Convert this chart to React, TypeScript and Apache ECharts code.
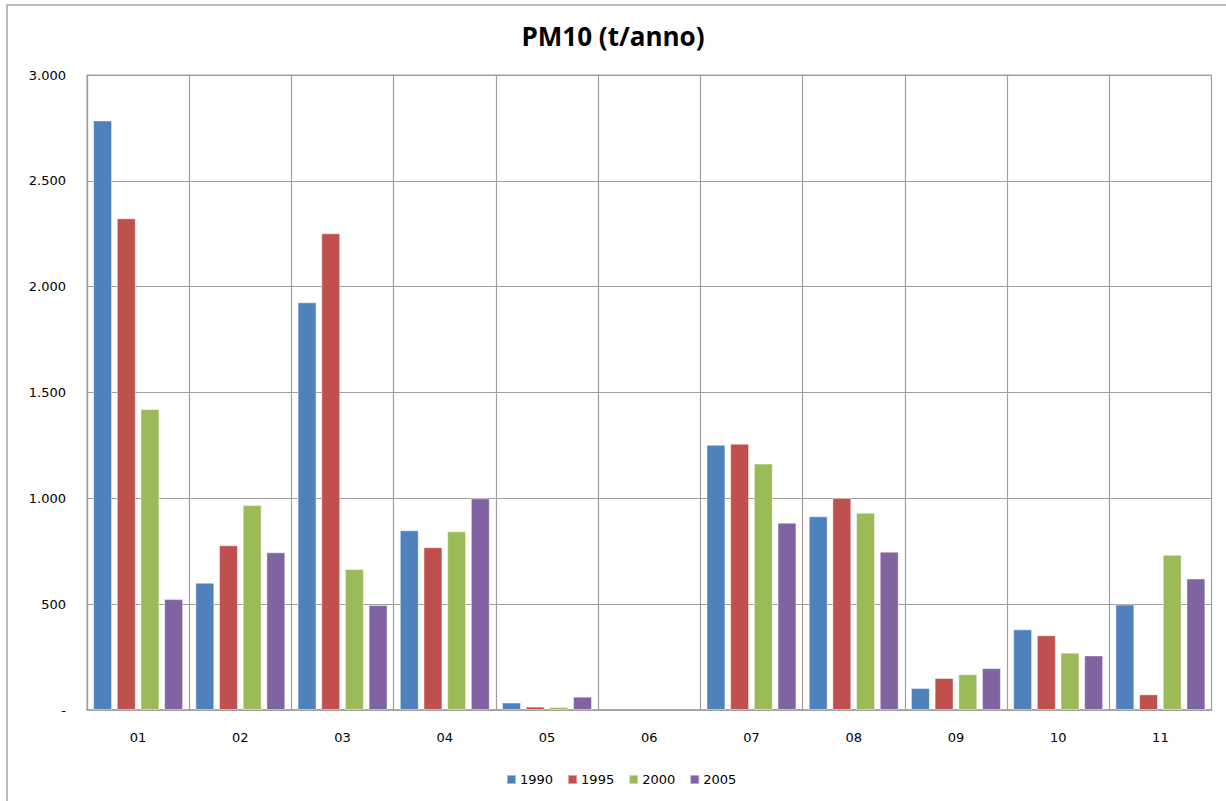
import React, { useEffect, useRef } from "react";
import * as echarts from "echarts";

const categories = ["01", "02", "03", "04", "05", "06", "07", "08", "09", "10", "11"];
const years = ["1990", "1995", "2000", "2005"];
const s1990 = [2785, 601, 1926, 849, 35, null, 1253, 915, 104, 381, 498];
const s1995 = [2323, 778, 2252, 769, 16, null, 1258, 1002, 151, 353, 74];
const s2000 = [1422, 968, 666, 844, 14, null, 1164, 932, 169, 271, 733];
const s2005 = [524, 745, 496, 1000, 63, null, 885, 748, 198, 258, 621];
const yTicks = [0, 500, 1000, 1500, 2000, 2500, 3000];

const colors = ["#4F81BD", "#C0504D", "#9BBB59", "#8064A2"];
const FONT = "'DejaVu Sans', sans-serif";
const TITLE_FONT = "'Open Sans', Lato, sans-serif";

function fmt(v: number): string {
  if (v === 0) return "-";
  return String(v).replace(/\B(?=(\d{3})+(?!\d))/g, ".");
}

export default function App() {
  const ref = useRef<HTMLDivElement>(null);
  useEffect(() => {
    if (!ref.current) return;
    const chart = echarts.init(ref.current, null, { renderer: "svg" });
    const seriesData = [s1990, s1995, s2000, s2005];
    chart.setOption({
      animation: false,
      backgroundColor: "#ffffff",
      textStyle: { fontFamily: FONT },
      title: {
        text: "PM10 (t/anno)",
        left: "center",
        top: 18,
        textStyle: { fontFamily: TITLE_FONT, fontSize: 26, fontWeight: "bold", color: "#000" },
      },
      legend: {
        data: years,
        left: 501,
        top: 768,
        itemWidth: 9,
        itemHeight: 9,
        itemGap: 14,
        icon: "rect",
        textStyle: { fontFamily: FONT, fontSize: 13, color: "#000", padding: [0, 0, 0, -1] },
      },
      graphic: [
        {
          type: "rect",
          shape: { x: 7, y: 5, width: 1240, height: 820 },
          style: { fill: "none", stroke: "#a6a6a6", lineWidth: 1.5 },
          silent: true,
        },
      ],
      grid: {
        left: 87,
        top: 75,
        width: 1124.5,
        height: 635,
        containLabel: false,
        outerBoundsMode: "none",
        show: true,
        borderColor: "#a0a0a0",
        borderWidth: 1,
      },
      xAxis: {
        type: "category",
        data: categories,
        axisLine: { show: true, lineStyle: { color: "#a0a0a0", width: 1.5 } },
        axisTick: { show: false },
        splitLine: { show: true, lineStyle: { color: "#a0a0a0", width: 1.2 } },
        axisLabel: { color: "#000", fontSize: 13, margin: 21, fontFamily: FONT },
      },
      yAxis: {
        type: "value",
        min: yTicks[0],
        max: yTicks[yTicks.length - 1],
        interval: 500,
        axisLine: { show: true, lineStyle: { color: "#a0a0a0", width: 1.2 } },
        axisTick: { show: false },
        splitLine: { show: true, lineStyle: { color: "#a0a0a0", width: 1.2 } },
        axisLabel: {
          color: "#000",
          fontSize: 13,
          margin: 21,
          fontFamily: FONT,
          formatter: (v: number) => fmt(v),
        },
      },
      series: years.map((y, i) => ({
        name: y,
        type: "bar",
        data: seriesData[i],
        barGap: "25%",
        barCategoryGap: "12%",
        itemStyle: {
          color: colors[i],
          borderColor: "rgba(255,255,255,0.45)",
          borderWidth: 1,
        },
      })),
    });
    return () => chart.dispose();
  }, []);
  return (
    <div
      ref={ref}
      style={{ position: "fixed", left: 0, top: 0, width: 1226, height: 801 }}
    />
  );
}
